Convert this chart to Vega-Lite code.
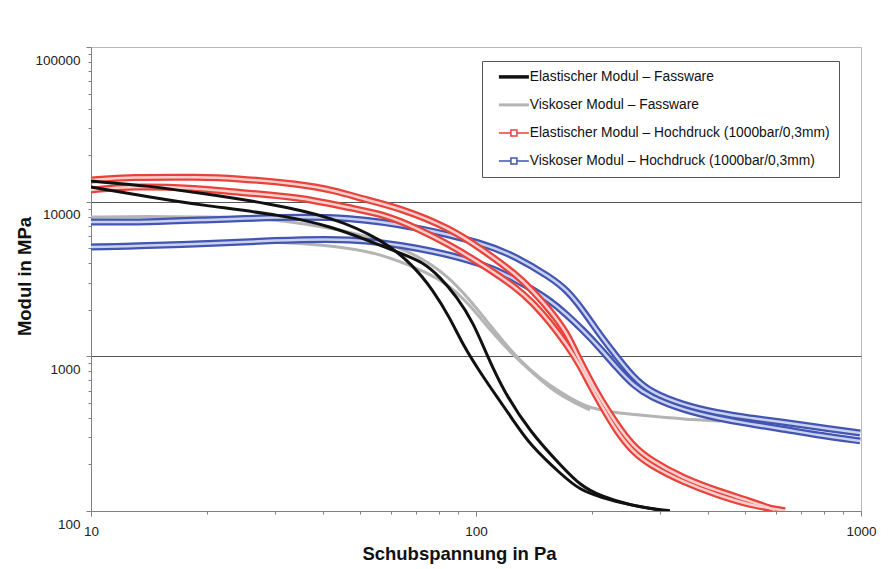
{
  "$schema": "https://vega.github.io/schema/vega-lite/v6.json",
  "width": 770,
  "height": 464,
  "autosize": {"type": "none"},
  "padding": {"left": 91, "top": 47, "right": 28, "bottom": 58},
  "background": "white",
  "config": {"view": {"stroke": "#b8b8b8", "strokeWidth": 1}, "font": "Liberation Sans"},
  "data": {"values": [
    {"s":"EF","r":1,"x":10,"y":13590},{"s":"EF","r":1,"x":14.23,"y":12620},{"s":"EF","r":1,"x":19.19,"y":11370},{"s":"EF","r":1,"x":28.65,"y":9790},{"s":"EF","r":1,"x":42.52,"y":7950},{"s":"EF","r":1,"x":57.34,"y":5645},{"s":"EF","r":1,"x":68.62,"y":3890},{"s":"EF","r":1,"x":77.33,"y":2683},{"s":"EF","r":1,"x":85.62,"y":1768},{"s":"EF","r":1,"x":92.52,"y":1184},{"s":"EF","r":1,"x":102.4,"y":791},{"s":"EF","r":1,"x":113.4,"y":546},{"s":"EF","r":1,"x":124.8,"y":388},{"s":"EF","r":1,"x":138.1,"y":267},{"s":"EF","r":1,"x":168.3,"y":168},{"s":"EF","r":1,"x":186.2,"y":137},{"s":"EF","r":1,"x":209.9,"y":123},{"s":"EF","r":1,"x":251.2,"y":109},{"s":"EF","r":1,"x":300.6,"y":101.5},{"s":"EF","r":1,"x":319,"y":100.5},
    {"s":"EF","r":2,"x":10,"y":12430},{"s":"EF","r":2,"x":14.23,"y":10710},{"s":"EF","r":2,"x":19.19,"y":9510},{"s":"EF","r":2,"x":31.53,"y":8195},{"s":"EF","r":2,"x":42.52,"y":6850},{"s":"EF","r":2,"x":52.12,"y":5645},{"s":"EF","r":2,"x":63.49,"y":4655},{"s":"EF","r":2,"x":72.84,"y":4070},{"s":"EF","r":2,"x":80.64,"y":3255},{"s":"EF","r":2,"x":89.27,"y":2417},{"s":"EF","r":2,"x":98.22,"y":1666},{"s":"EF","r":2,"x":106.8,"y":1019},{"s":"EF","r":2,"x":117.5,"y":606},{"s":"EF","r":2,"x":138.1,"y":324},{"s":"EF","r":2,"x":168.3,"y":190},{"s":"EF","r":2,"x":186.2,"y":147},{"s":"EF","r":2,"x":209.9,"y":125},{"s":"EF","r":2,"x":251.2,"y":109},{"s":"EF","r":2,"x":300.6,"y":101.5},
    {"s":"VF","r":1,"x":10,"y":7950},{"s":"VF","r":1,"x":14.23,"y":8070},{"s":"VF","r":1,"x":19.19,"y":7950},{"s":"VF","r":1,"x":27.97,"y":7835},{"s":"VF","r":1,"x":37.73,"y":7060},{"s":"VF","r":1,"x":47.07,"y":6360},{"s":"VF","r":1,"x":56.32,"y":5645},{"s":"VF","r":1,"x":70.28,"y":4515},{"s":"VF","r":1,"x":84.1,"y":3355},{"s":"VF","r":1,"x":96.47,"y":2312},{"s":"VF","r":1,"x":108.7,"y":1593},{"s":"VF","r":1,"x":122.6,"y":1098},{"s":"VF","r":1,"x":138.1,"y":815},{"s":"VF","r":1,"x":155.7,"y":643},{"s":"VF","r":1,"x":175.5,"y":538},{"s":"VF","r":1,"x":191.9,"y":477},{"s":"VF","r":1,"x":209.9,"y":450},{"s":"VF","r":1,"x":232.4,"y":430},{"s":"VF","r":1,"x":283.1,"y":411},{"s":"VF","r":1,"x":344.9,"y":393},{"s":"VF","r":1,"x":430.4,"y":382},
    {"s":"VF","r":2,"x":10,"y":5245},{"s":"VF","r":2,"x":14.23,"y":5320},{"s":"VF","r":2,"x":19.19,"y":5480},{"s":"VF","r":2,"x":25.88,"y":5565},{"s":"VF","r":2,"x":34.91,"y":5400},{"s":"VF","r":2,"x":47.07,"y":5010},{"s":"VF","r":2,"x":56.32,"y":4585},{"s":"VF","r":2,"x":70.28,"y":3722},{"s":"VF","r":2,"x":84.1,"y":2977},{"s":"VF","r":2,"x":96.47,"y":2146},{"s":"VF","r":2,"x":108.7,"y":1479},{"s":"VF","r":2,"x":124.8,"y":1019},{"s":"VF","r":2,"x":142.3,"y":757},{"s":"VF","r":2,"x":160.4,"y":588},{"s":"VF","r":2,"x":180.8,"y":499},{"s":"VF","r":2,"x":197.8,"y":450},
    {"s":"EH","r":1,"x":10,"y":13790},{"s":"EH","r":1,"x":12.63,"y":14420},{"s":"EH","r":1,"x":19.19,"y":14420},{"s":"EH","r":1,"x":23.38,"y":14210},{"s":"EH","r":1,"x":34.91,"y":12990},{"s":"EH","r":1,"x":42.52,"y":11890},{"s":"EH","r":1,"x":52.12,"y":10240},{"s":"EH","r":1,"x":63.49,"y":9090},{"s":"EH","r":1,"x":85.62,"y":6750},{"s":"EH","r":1,"x":104.3,"y":4865},{"s":"EH","r":1,"x":127.8,"y":3355},{"s":"EH","r":1,"x":140.6,"y":2643},{"s":"EH","r":1,"x":155.7,"y":1992},{"s":"EH","r":1,"x":172.4,"y":1414},{"s":"EH","r":1,"x":183.0,"y":1019},{"s":"EH","r":1,"x":197.8,"y":703},{"s":"EH","r":1,"x":209.9,"y":538},{"s":"EH","r":1,"x":232.4,"y":360},{"s":"EH","r":1,"x":255.7,"y":263},{"s":"EH","r":1,"x":283.1,"y":214},{"s":"EH","r":1,"x":344.9,"y":163},{"s":"EH","r":1,"x":422.7,"y":135},{"s":"EH","r":1,"x":514.9,"y":116},{"s":"EH","r":1,"x":597.9,"y":101.5},
    {"s":"EH","r":2,"x":10,"y":11890},{"s":"EH","r":2,"x":12.63,"y":12620},{"s":"EH","r":2,"x":19.19,"y":12240},{"s":"EH","r":2,"x":23.38,"y":11540},{"s":"EH","r":2,"x":34.91,"y":10710},{"s":"EH","r":2,"x":47.07,"y":9090},{"s":"EH","r":2,"x":57.34,"y":8315},{"s":"EH","r":2,"x":70.28,"y":6750},{"s":"EH","r":2,"x":85.62,"y":5245},{"s":"EH","r":2,"x":104.3,"y":3890},{"s":"EH","r":2,"x":127.8,"y":2764},{"s":"EH","r":2,"x":140.6,"y":2211},{"s":"EH","r":2,"x":155.7,"y":1666},{"s":"EH","r":2,"x":172.4,"y":1184},{"s":"EH","r":2,"x":186.2,"y":878},{"s":"EH","r":2,"x":197.8,"y":652},{"s":"EH","r":2,"x":209.9,"y":499},{"s":"EH","r":2,"x":232.4,"y":324},{"s":"EH","r":2,"x":255.7,"y":241},{"s":"EH","r":2,"x":283.1,"y":198},{"s":"EH","r":2,"x":344.9,"y":154},{"s":"EH","r":2,"x":422.7,"y":127},{"s":"EH","r":2,"x":514.9,"y":109},{"s":"EH","r":2,"x":634.9,"y":100.5},
    {"s":"VH","r":1,"x":10,"y":7385},{"s":"VH","r":1,"x":14.23,"y":7385},{"s":"VH","r":1,"x":19.19,"y":7605},{"s":"VH","r":1,"x":30.97,"y":7950},{"s":"VH","r":1,"x":47.07,"y":7950},{"s":"VH","r":1,"x":70.28,"y":6850},{"s":"VH","r":1,"x":104.3,"y":5400},{"s":"VH","r":1,"x":127.8,"y":4385},{"s":"VH","r":1,"x":155.7,"y":3255},{"s":"VH","r":1,"x":172.4,"y":2683},{"s":"VH","r":1,"x":189.6,"y":1992},{"s":"VH","r":1,"x":209.9,"y":1373},{"s":"VH","r":1,"x":232.4,"y":990},{"s":"VH","r":1,"x":255.7,"y":735},{"s":"VH","r":1,"x":283.1,"y":588},{"s":"VH","r":1,"x":344.9,"y":485},{"s":"VH","r":1,"x":422.7,"y":430},{"s":"VH","r":1,"x":514.9,"y":399},{"s":"VH","r":1,"x":627.3,"y":376},{"s":"VH","r":1,"x":768.8,"y":349},{"s":"VH","r":1,"x":995,"y":319},
    {"s":"VH","r":2,"x":10,"y":5090},{"s":"VH","r":2,"x":17.02,"y":5245},{"s":"VH","r":2,"x":30.97,"y":5645},{"s":"VH","r":2,"x":47.07,"y":5815},{"s":"VH","r":2,"x":70.28,"y":5090},{"s":"VH","r":2,"x":104.3,"y":4010},{"s":"VH","r":2,"x":127.8,"y":3113},{"s":"VH","r":2,"x":155.7,"y":2312},{"s":"VH","r":2,"x":172.4,"y":1849},{"s":"VH","r":2,"x":189.6,"y":1479},{"s":"VH","r":2,"x":209.9,"y":1132},{"s":"VH","r":2,"x":232.4,"y":840},{"s":"VH","r":2,"x":255.7,"y":652},{"s":"VH","r":2,"x":283.1,"y":546},{"s":"VH","r":2,"x":344.9,"y":450},{"s":"VH","r":2,"x":422.7,"y":399},{"s":"VH","r":2,"x":514.9,"y":365},{"s":"VH","r":2,"x":627.3,"y":339},{"s":"VH","r":2,"x":768.8,"y":310},{"s":"VH","r":2,"x":995,"y":284}
  ]},
  "encoding": {
    "x": {
      "field": "x", "type": "quantitative",
      "scale": {"type": "log", "domain": [10, 1000], "nice": false},
      "axis": {
        "values": [10,20,30,40,50,60,70,80,90,100,200,300,400,500,600,700,800,900,1000],
        "labelExpr": "(datum.value==10||datum.value==100||datum.value==1000) ? ''+datum.value : ''",
        "grid": false,
        "domainColor": "#808080", "tickColor": "#808080",
        "tickSize": {"condition": {"test": "datum.value==10||datum.value==100||datum.value==1000", "value": 5}, "value": 3},
        "labelFontSize": 13.5, "labelColor": "#222", "labelPadding": 8, "labelFlush": false,
        "title": "Schubspannung in Pa", "titleFontSize": 18.5, "titleFontWeight": "bold", "titleColor": "#111",
        "titleX": 368, "titleY": 33, "titleBaseline": "top"
      }
    },
    "y": {
      "field": "y", "type": "quantitative",
      "scale": {"type": "log", "domain": [100, 100000], "nice": false},
      "axis": {
        "values": [100,200,300,400,500,600,700,800,900,1000,2000,3000,4000,5000,6000,7000,8000,9000,10000,20000,30000,40000,50000,60000,70000,80000,90000,100000],
        "labelExpr": "(datum.value==100||datum.value==1000||datum.value==10000||datum.value==100000) ? ''+datum.value : ''",
        "grid": true, "gridColor": "#555",
        "gridOpacity": {"condition": {"test": "datum.value==1000||datum.value==10000", "value": 1}, "value": 0},
        "domainColor": "#808080", "tickColor": "#808080",
        "tickSize": {"condition": {"test": "datum.value==100||datum.value==1000||datum.value==10000||datum.value==100000", "value": 5}, "value": 3},
        "labelFontSize": 13.5, "labelColor": "#222", "labelPadding": 6, "labelOffset": 13, "labelFlush": false,
        "title": "Modul in MPa", "titleFontSize": 18.5, "titleFontWeight": "bold", "titleColor": "#111",
        "titleX": -57, "titleY": 229
      }
    }
  },
  "layer": [
    {
      "transform": [{"filter": "datum.s=='VF'"}],
      "mark": {"type": "line", "strokeWidth": 3, "interpolate": "basis", "clip": true},
      "encoding": {
        "detail": {"field": "r"},
        "color": {
          "field": "s", "type": "nominal",
          "scale": {"domain": ["EF","VF","EH","VH"], "range": ["#111111","#b4b4b4","#e8423c","#4255b0"]},
          "legend": {
            "title": null, "orient": "none", "legendX": 391, "legendY": 14,
            "strokeColor": "#555", "fillColor": "white", "padding": 9,
            "symbolType": "stroke", "symbolSize": 900, "symbolStrokeWidth": 2, "symbolOffset": 16,
            "labelFontSize": 13.8, "labelColor": "#111", "labelOffset": 9, "rowPadding": 13,
            "labelLimit": 400,
            "labelExpr": "datum.value=='EF' ? 'Elastischer Modul – Fassware' : datum.value=='VF' ? 'Viskoser Modul – Fassware' : datum.value=='EH' ? 'Elastischer Modul – Hochdruck (1000bar/0,3mm)' : 'Viskoser Modul – Hochdruck (1000bar/0,3mm)'",
            "encode": {"symbols": {"update": {
              "strokeWidth": {"signal": "datum.value=='EF' ? 3.5 : datum.value=='VF' ? 3 : 1.5"},
              "shape": {"signal": "(datum.value=='EH'||datum.value=='VH') ? 'M-1,0H-0.2M0.2,0H1M-0.2,-0.2H0.2V0.2H-0.2Z' : 'M-1,0H1'"}
            }}}
          }
        }
      }
    },
    {
      "transform": [{"filter": "datum.s=='VH'"}],
      "mark": {"type": "line", "strokeWidth": 7, "interpolate": "basis", "clip": true},
      "encoding": {"detail": {"field": "r"}, "color": {"field": "s", "type": "nominal"}}
    },
    {
      "transform": [{"filter": "datum.s=='VH'"}],
      "mark": {"type": "line", "strokeWidth": 2.5, "interpolate": "basis", "clip": true, "color": "#c9d0f0"},
      "encoding": {"detail": {"field": "r"}}
    },
    {
      "transform": [{"filter": "datum.s=='EH'"}],
      "mark": {"type": "line", "strokeWidth": 7, "interpolate": "basis", "clip": true},
      "encoding": {"detail": {"field": "r"}, "color": {"field": "s", "type": "nominal"}}
    },
    {
      "transform": [{"filter": "datum.s=='EH'"}],
      "mark": {"type": "line", "strokeWidth": 2.5, "interpolate": "basis", "clip": true, "color": "#f9cfcc"},
      "encoding": {"detail": {"field": "r"}}
    },
    {
      "transform": [{"filter": "datum.s=='EF'"}],
      "mark": {"type": "line", "strokeWidth": 3, "interpolate": "basis", "clip": true},
      "encoding": {"detail": {"field": "r"}, "color": {"field": "s", "type": "nominal"}}
    }
  ]
}
